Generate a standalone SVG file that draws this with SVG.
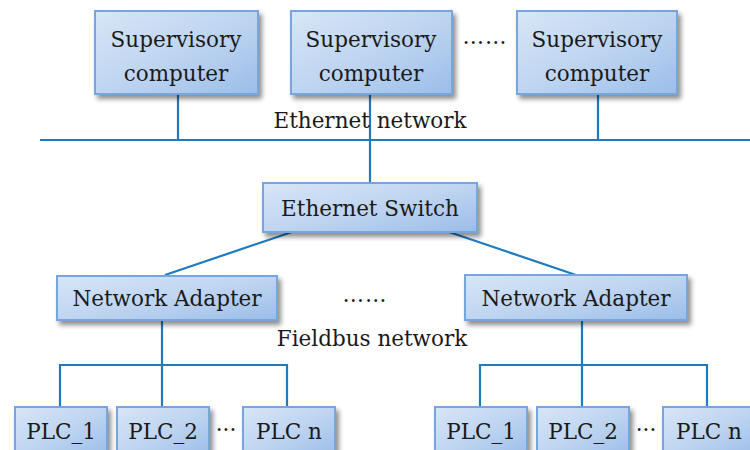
<svg xmlns="http://www.w3.org/2000/svg" width="750" height="450" viewBox="0 0 750 450">
  <defs>
    <linearGradient id="boxFill" x1="0" y1="0" x2="1" y2="1">
      <stop offset="0" stop-color="#d8e6f7"/>
      <stop offset="0.55" stop-color="#bcd3f0"/>
      <stop offset="1" stop-color="#9bbde8"/>
    </linearGradient>
    <filter id="shadow" x="-10%" y="-10%" width="130%" height="140%">
      <feGaussianBlur in="SourceAlpha" stdDeviation="2.5"/>
      <feOffset dx="3" dy="4" result="b"/>
      <feComponentTransfer><feFuncA type="linear" slope="0.45"/></feComponentTransfer>
      <feMerge><feMergeNode/><feMergeNode in="SourceGraphic"/></feMerge>
    </filter>
  </defs>
  <style>
    .box { fill: url(#boxFill); stroke: #74a6dc; stroke-width: 2; filter: url(#shadow); }
    .lbl { font-family: "DejaVu Serif", "Liberation Serif", serif; font-size: 21.5px; fill: #1a1a1a; text-anchor: middle; }
    .dots { font-family: "DejaVu Serif", "Liberation Serif", serif; font-size: 21.5px; fill: #1a1a1a; text-anchor: middle; letter-spacing: 1px; }
    .wire { stroke: #1f7bbf; stroke-width: 2.2; fill: none; }
  </style>

  <rect width="750" height="450" fill="#ffffff"/>

  <!-- connectors -->
  <g id="connectors">
    <line class="wire" x1="40" y1="140" x2="750" y2="140"/>
    <line class="wire" x1="178" y1="94" x2="178" y2="140"/>
    <line class="wire" x1="370" y1="94" x2="370" y2="184"/>
    <line class="wire" x1="598" y1="94" x2="598" y2="140"/>
    <line class="wire" x1="292" y1="232" x2="165" y2="275"/>
    <line class="wire" x1="449" y1="232" x2="576" y2="275"/>
    <!-- left fieldbus tree -->
    <line class="wire" x1="162" y1="320" x2="162" y2="407"/>
    <polyline class="wire" points="60,407 60,365 287,365 287,407"/>
    <!-- right fieldbus tree -->
    <line class="wire" x1="582" y1="320" x2="582" y2="407"/>
    <polyline class="wire" points="480,407 480,365 707,365 707,407"/>
  </g>

  <g id="sup1">
    <rect class="box" x="95" y="11" width="163" height="83"/>
    <text class="lbl" x="176" y="47">Supervisory</text>
    <text class="lbl" x="176" y="81">computer</text>
  </g>
  <g id="sup2">
    <rect class="box" x="291" y="11" width="161" height="83"/>
    <text class="lbl" x="371" y="47">Supervisory</text>
    <text class="lbl" x="371" y="81">computer</text>
  </g>
  <text class="dots" x="485" y="44">……</text>
  <g id="sup3">
    <rect class="box" x="517" y="11" width="160" height="83"/>
    <text class="lbl" x="597" y="47">Supervisory</text>
    <text class="lbl" x="597" y="81">computer</text>
  </g>

  <text class="lbl" x="370" y="128">Ethernet network</text>

  <g id="switch">
    <rect class="box" x="263" y="183" width="214" height="49"/>
    <text class="lbl" x="370" y="216">Ethernet Switch</text>
  </g>

  <g id="adapter1">
    <rect class="box" x="57" y="276" width="220" height="44"/>
    <text class="lbl" x="167" y="306">Network Adapter</text>
  </g>
  <text class="dots" x="365" y="302">……</text>
  <g id="adapter2">
    <rect class="box" x="465" y="275" width="222" height="45"/>
    <text class="lbl" x="576" y="306">Network Adapter</text>
  </g>

  <text class="lbl" x="372" y="346">Fieldbus network</text>

  <g id="plc1a">
    <rect class="box" x="15" y="407" width="92" height="50"/>
    <text class="lbl" x="61" y="439">PLC_1</text>
  </g>
  <g id="plc2a">
    <rect class="box" x="117" y="407" width="92" height="50"/>
    <text class="lbl" x="163" y="439">PLC_2</text>
  </g>
  <text class="lbl" x="226" y="437">···</text>
  <g id="plcna">
    <rect class="box" x="243" y="407" width="92" height="50"/>
    <text class="lbl" x="289" y="439">PLC n</text>
  </g>

  <g id="plc1b">
    <rect class="box" x="435" y="407" width="92" height="50"/>
    <text class="lbl" x="481" y="439">PLC_1</text>
  </g>
  <g id="plc2b">
    <rect class="box" x="537" y="407" width="92" height="50"/>
    <text class="lbl" x="583" y="439">PLC_2</text>
  </g>
  <text class="lbl" x="646" y="437">···</text>
  <g id="plcnb">
    <rect class="box" x="663" y="407" width="92" height="50"/>
    <text class="lbl" x="709" y="439">PLC n</text>
  </g>
</svg>
